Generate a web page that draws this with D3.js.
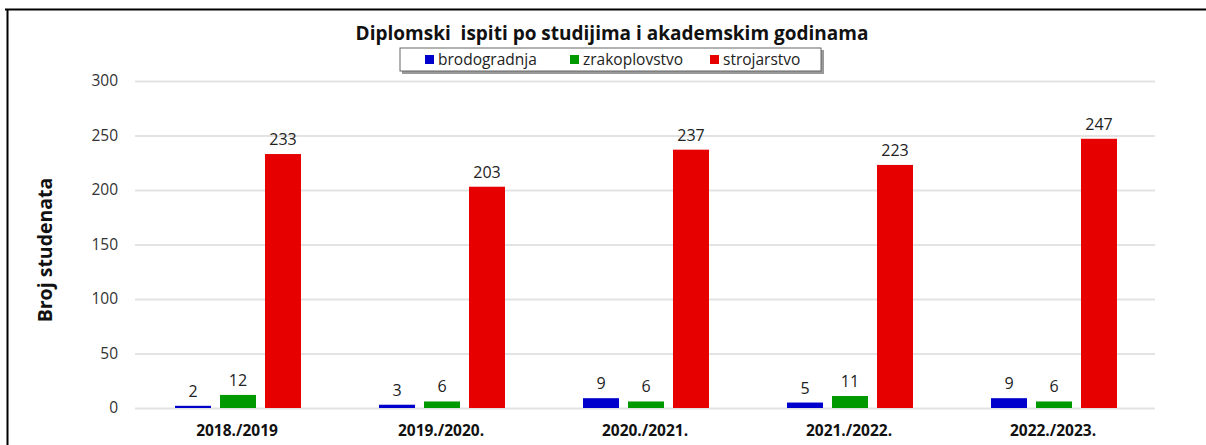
<!DOCTYPE html>
<html>
<head>
<meta charset="utf-8">
<script src="https://cdn.jsdelivr.net/npm/d3@7"></script>
<style>
  body { margin: 0; background: #fff; }
  svg, svg text { font-family: "Open Sans", "Noto Sans", sans-serif; }
</style>
</head>
<body>
<div id="chart"></div>
<script>
// data
var years = ["2018./2019", "2019./2020.", "2020./2021.", "2021./2022.", "2022./2023."];
var series = ["brodogradnja", "zrakoplovstvo", "strojarstvo"];
var brodogradnja = [2, 3, 9, 5, 9];
var zrakoplovstvo = [12, 6, 6, 11, 6];
var strojarstvo = [233, 203, 237, 223, 247];
var yTicks = [0, 50, 100, 150, 200, 250, 300];
var colors = ["#0000cc", "#009900", "#e60000"];

var values = [brodogradnja, zrakoplovstvo, strojarstvo];
var width = 1206, height = 445;
var margin = { top: 81, right: 51, bottom: 37, left: 135 };
var w = width - margin.left - margin.right,
    h = height - margin.top - margin.bottom;

var svg = d3.select("#chart")
    .append("svg")
    .attr("width", width)
    .attr("height", height);

// frame (top and left edges only are visible)
svg.append("line").attr("x1", 5).attr("x2", width).attr("y1", 9.5).attr("y2", 9.5)
    .attr("stroke", "#000").attr("stroke-width", 2);
svg.append("line").attr("x1", 7.5).attr("x2", 7.5).attr("y1", 9).attr("y2", height)
    .attr("stroke", "#000").attr("stroke-width", 2);

var g = svg.append("g").attr("transform", "translate(" + margin.left + "," + margin.top + ")");

var x0 = d3.scaleBand().domain(years).range([0, w]);
var x1 = d3.scaleBand().domain(series).range([40, 166]).paddingInner(0.2);
var y = d3.scaleLinear().domain([0, 300]).range([h, 0]);

// gridlines
g.append("g")
    .call(d3.axisLeft(y).tickValues(yTicks).tickSize(-w).tickFormat(""))
    .call(a => a.select(".domain").remove())
    .selectAll("line")
    .attr("stroke", "#e3e3e3")
    .attr("stroke-width", 2);

// y tick labels
g.append("g")
    .call(d3.axisLeft(y).tickValues(yTicks).tickSize(0).tickPadding(17))
    .call(a => a.select(".domain").remove())
    .selectAll("text")
    .style("font-size", "15.5px")
    .attr("fill", "#333");

// x labels
g.append("g")
    .attr("transform", "translate(0," + h + ")")
    .call(d3.axisBottom(x0).tickSize(0).tickPadding(17))
    .call(a => a.select(".domain").remove())
    .selectAll("text")
    .style("font-size", "15.5px")
    .style("font-weight", "bold")
    .attr("fill", "#111");

// bars
series.forEach(function(s, si) {
    var grp = g.append("g");
    grp.selectAll("rect")
        .data(values[si])
        .enter()
        .append("rect")
        .attr("x", (d, i) => x0(years[i]) + x1(s))
        .attr("y", d => y(d))
        .attr("width", x1.bandwidth())
        .attr("height", d => Math.max(1.5, h - y(d)))
        .attr("fill", colors[si]);
    grp.selectAll("text")
        .data(values[si])
        .enter()
        .append("text")
        .attr("x", (d, i) => x0(years[i]) + x1(s) + x1.bandwidth() / 2)
        .attr("y", d => y(d) - 9)
        .attr("text-anchor", "middle")
        .style("font-size", "16px")
        .attr("fill", "#222")
        .text(d => d);
});

// title
svg.append("text")
    .attr("x", 612).attr("y", 40)
    .attr("text-anchor", "middle")
    .style("font-size", "19px")
    .style("font-weight", "bold")
    .style("white-space", "pre")
    .attr("fill", "#111")
    .text("Diplomski  ispiti po studijima i akademskim godinama");

// y axis label
svg.append("text")
    .attr("transform", "translate(52,250) rotate(-90)")
    .attr("text-anchor", "middle")
    .style("font-size", "19.5px")
    .style("font-weight", "bold")
    .attr("fill", "#111")
    .text("Broj studenata");

// legend
var lg = svg.append("g").attr("transform", "translate(400,48)");
lg.append("rect").attr("x", 2).attr("y", 2).attr("width", 422).attr("height", 24).attr("fill", "#999");
lg.append("rect").attr("x", 0).attr("y", 0).attr("width", 421).attr("height", 23)
    .attr("fill", "#fff").attr("stroke", "#666").attr("stroke-width", 1);
var legX = [25, 170, 310];
series.forEach(function(s, si) {
    lg.append("rect").attr("x", legX[si]).attr("y", 7).attr("width", 9).attr("height", 9).attr("fill", colors[si]);
    lg.append("text").attr("x", legX[si] + 13).attr("y", 17)
        .style("font-size", "15.5px").attr("fill", "#222").text(s);
});
</script>
</body>
</html>
